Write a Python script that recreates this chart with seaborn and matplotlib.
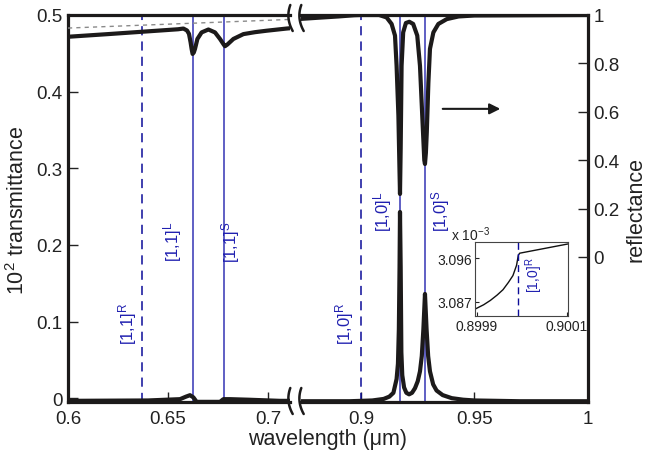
import numpy as np
import matplotlib
matplotlib.use("Agg")
import matplotlib.pyplot as plt
import seaborn as sns
from matplotlib.lines import Line2D
from matplotlib.ticker import FuncFormatter

# values
# short-wavelength part of the broken axis
wl_refl_a = [0.600, 0.620, 0.641, 0.655, 0.6577, 0.6595, 0.6605, 0.6613, 0.6618,
             0.6623, 0.6629, 0.6635, 0.6647, 0.6668, 0.6702, 0.6735, 0.676, 0.678,
             0.6785, 0.6797, 0.6827, 0.6877, 0.6935, 0.6993, 0.7093, 0.712]
refl_a = [0.910, 0.921, 0.933, 0.941, 0.944, 0.936, 0.922, 0.887, 0.860,
          0.839, 0.845, 0.860, 0.901, 0.928, 0.940, 0.928, 0.901, 0.876,
          0.871, 0.878, 0.901, 0.921, 0.929, 0.935, 0.944, 0.946]
wl_ref_line = [0.600, 0.712]
ref_line = [0.946, 0.982]

wl_trans_a = [0.600, 0.640, 0.656, 0.659, 0.661, 0.6627, 0.6643, 0.670, 0.676,
              0.6777, 0.681, 0.690, 0.706, 0.712]
trans_a = [-0.0035, -0.003, -0.0013, 0.002, 0.0039, 0.001, -0.0048, -0.0048, -0.0048,
           -0.0013, -0.0013, -0.002, -0.0035, -0.0035]

# long-wavelength part
wl_refl_b = [0.872, 0.880, 0.890, 0.897, 0.900, 0.908, 0.9113, 0.9135, 0.915, 0.9157,
             0.9165, 0.9170, 0.9172, 0.9175, 0.9179, 0.9186, 0.9198, 0.9213, 0.923,
             0.9248, 0.926, 0.927, 0.9279, 0.9282, 0.9286, 0.929, 0.9297, 0.9304,
             0.9319, 0.9341, 0.9378, 0.943, 0.950, 1.0]
refl_b = [0.983, 0.988, 0.994, 0.999, 1.0, 1.0, 0.99, 0.963, 0.915, 0.79,
          0.584, 0.35, 0.26, 0.45, 0.79, 0.928, 0.967, 0.972, 0.963,
          0.915, 0.79, 0.584, 0.40, 0.384, 0.43, 0.515, 0.72, 0.86,
          0.928, 0.963, 0.983, 0.994, 0.998, 1.0]

wl_trans_b = [0.872, 0.895, 0.905, 0.910, 0.9125, 0.9143, 0.9157, 0.9163, 0.9167,
              0.9170, 0.9172, 0.9175, 0.9178, 0.9182, 0.919, 0.920, 0.9212, 0.9225,
              0.9238, 0.925, 0.926, 0.9268, 0.9275, 0.9282, 0.9289, 0.9296, 0.9304,
              0.9318, 0.9333, 0.936, 0.940, 0.945, 0.950, 0.970, 1.0]
trans_b = [-0.004, -0.004, -0.003, -0.001, 0.002, 0.007, 0.025, 0.045, 0.09,
           0.17, 0.243, 0.17, 0.06, 0.03, 0.014, 0.007, 0.005, 0.007,
           0.013, 0.022, 0.035, 0.055, 0.09, 0.136, 0.09, 0.055, 0.035,
           0.018, 0.01, 0.004, 0.0, -0.002, -0.003, -0.004, -0.004]

# inset close to the [1,0]R Rayleigh anomaly (x 10^-3)
wl_inset = [0.899896, 0.89990, 0.899915, 0.89993, 0.899945, 0.899958, 0.89997,
            0.89998, 0.899988, 0.899992, 0.899995, 0.900102]
trans_inset = [3.0855, 3.0857, 3.0864, 3.0873, 3.0884, 3.0895, 3.0910,
               3.0924, 3.0945, 3.0966, 3.0970, 3.0989]

# mode positions
modes_dashed = {"[1,1]": 0.6368, "[1,0]": 0.89999}
modes_solid = [0.6623, 0.6778, 0.9172, 0.9282]

sns.set_theme(style="ticks")
plt.rcParams["font.family"] = ["Liberation Sans", "DejaVu Sans"]
plt.rcParams["mathtext.default"] = "regular"

W, H = 645, 460
fig = plt.figure(figsize=(W / 100, H / 100), dpi=100)


def box(x0, y0, x1, y1):
    return [x0 / W, 1 - y1 / H, (x1 - x0) / W, (y1 - y0) / H]


ax1 = fig.add_axes(box(68, 16, 290, 403))
ax2 = fig.add_axes(box(301, 16, 588, 403))
ax1.set_xlim(0.6, 0.711)
ax2.set_xlim(0.8736, 1.0)
for ax in (ax1, ax2):
    ax.set_ylim(-0.005, 0.5)
ax1r = ax1.twinx()
ax2r = ax2.twinx()
for ax in (ax1r, ax2r):
    ax.set_ylim(-0.6, 1.0)

curve = "#1c1a1a"
blue_solid = "#3434b4"
blue_dash = "#0c0c98"
blue_text = "#2020b0"
lw_curve = 3.0

# blue mode lines
ax1.axvline(modes_dashed["[1,1]"], color=blue_dash, lw=1.1, ls=(0, (6, 4)), zorder=1)
ax2.axvline(modes_dashed["[1,0]"], color=blue_dash, lw=1.1, ls=(0, (6, 4)), zorder=1)
for m in modes_solid:
    target = ax1 if m < 0.8 else ax2
    target.axvline(m, color=blue_solid, lw=1.1, zorder=1)

# curves
sns.lineplot(x=wl_trans_a, y=trans_a, ax=ax1, color=curve, lw=lw_curve, zorder=3)
sns.lineplot(x=wl_trans_b, y=trans_b, ax=ax2, color=curve, lw=lw_curve, zorder=3)
sns.lineplot(x=wl_ref_line, y=ref_line, ax=ax1r, color="#8a8a8a", lw=1.0,
             ls=(0, (3, 3)), zorder=2)
sns.lineplot(x=wl_refl_a, y=refl_a, ax=ax1r, color=curve, lw=lw_curve, zorder=3)
sns.lineplot(x=wl_refl_b, y=refl_b, ax=ax2r, color=curve, lw=lw_curve, zorder=3)

# mode labels
lab_kw = dict(rotation=90, color=blue_text, fontsize=12, ha="center", va="center")
ax1.text(0.630, 0.098, "$[1{,}1]^R$", **lab_kw)
ax1.text(0.6525, 0.205, "$[1{,}1]^L$", **lab_kw)
ax1.text(0.6815, 0.205, "$[1{,}1]^S$", **lab_kw)
ax2.text(0.893, 0.098, "$[1{,}0]^R$", **lab_kw)
ax2.text(0.9097, 0.245, "$[1{,}0]^L$", **lab_kw)
ax2.text(0.9349, 0.245, "$[1{,}0]^S$", **lab_kw)

# arrow pointing to the reflectance axis
ax2r.annotate("", xy=(0.9626, 0.612), xytext=(0.9348, 0.612),
              arrowprops=dict(arrowstyle="-|>", lw=1.5, color="k", mutation_scale=16))

fmt = FuncFormatter(lambda v, p: f"{v:g}")
spine_c = "#1c1a1a"
for ax in (ax1, ax2):
    for s in ax.spines.values():
        s.set_linewidth(2.3)
        s.set_color(spine_c)
    ax.tick_params(axis="x", direction="in", length=7, width=1, labelsize=13.5,
                   pad=6, colors="#222222", top=False)
    ax.xaxis.set_major_formatter(fmt)
ax1.spines["right"].set_visible(False)
ax2.spines["left"].set_visible(False)
ax1.set_xticks([0.6, 0.65, 0.7])
ax2.set_xticks([0.9, 0.95, 1.0])
ax1.set_yticks([0, 0.1, 0.2, 0.3, 0.4, 0.5])
ax1.yaxis.set_major_formatter(fmt)
ax1.tick_params(axis="y", direction="in", length=7, width=1, labelsize=13.5,
                pad=4, colors="#222222", right=False)
ax2.tick_params(axis="y", left=False, right=False, labelleft=False)
for ax in (ax1r, ax2r):
    for s in ax.spines.values():
        s.set_visible(False)
ax1r.tick_params(axis="y", right=False, labelright=False)
ax2r.set_yticks([0, 0.2, 0.4, 0.6, 0.8, 1.0])
ax2r.yaxis.set_major_formatter(fmt)
ax2r.tick_params(axis="y", direction="in", length=7, width=1, labelsize=13.5,
                 pad=4, colors="#222222", right=True)
for ax in (ax1, ax2, ax1r, ax2r):
    ax.set_xlabel("")
    ax.set_ylabel("")

# break marks
t = np.linspace(-1, 1, 30)
for x0 in (290, 301):
    for y0 in (19, 402):
        xs = x0 + 3.0 * t ** 2 - 1.5 + 1.2 * t
        ys = y0 + 13 * t
        fig.add_artist(Line2D(xs / W, 1 - ys / H, color=spine_c, lw=1.8,
                              transform=fig.transFigure))

# inset
axi = fig.add_axes(box(475, 243, 568, 317))
axi.plot(wl_inset, trans_inset, color="#111111", lw=1.0)
axi.axvline(0.899992, color=blue_dash, lw=1.0, ls=(0, (5, 3)))
axi.set_xlim(0.899896, 0.900102)
axi.set_ylim(3.0841, 3.0993)
axi.set_xticks([0.8999, 0.9001])
axi.set_xticklabels(["0.8999", "0.9001"])
axi.set_yticks([3.087, 3.096])
axi.set_yticklabels(["3.087", "3.096"])
axi.tick_params(direction="in", length=3, width=0.8, labelsize=10, pad=2,
                colors="#222222")
for s in axi.spines.values():
    s.set_linewidth(0.8)
    s.set_color("#444444")
axi.text(0.52, 0.80, "$[1{,}0]^R$", transform=axi.transAxes, rotation=90,
         color=blue_text, fontsize=10, ha="left", va="top")
fig.text(451 / W, 1 - 241 / H, "x $10^{-3}$", fontsize=10, color="#222222",
         ha="left", va="baseline")

# axis labels
fig.text(328 / W, 1 - 440 / H, "wavelength (μm)", fontsize=15.5, ha="center",
         va="center", color="#222222")
fig.text(18 / W, 1 - 210 / H, "$10^2$ transmittance", fontsize=15.5, rotation=90,
         ha="center", va="center", color="#222222")
fig.text(636 / W, 1 - 210 / H, "reflectance", fontsize=15.5, rotation=90,
         ha="center", va="center", color="#222222")

fig.savefig("out.png", dpi=100)
